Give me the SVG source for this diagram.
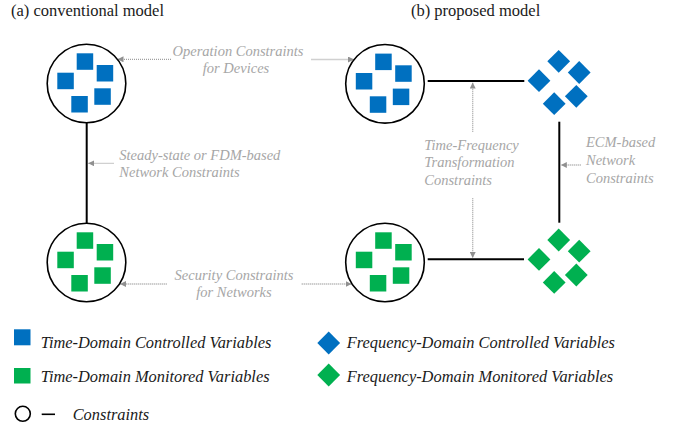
<svg xmlns="http://www.w3.org/2000/svg" width="678" height="427" viewBox="0 0 678 427">
  <style>
    .title { font-family: "Liberation Serif", "Times New Roman", serif; font-size: 16.5px; fill: #1a1a1a; }
    .note { font-family: "Liberation Serif", "Times New Roman", serif; font-style: italic; font-size: 14.5px; fill: #a6a6a6; }
    .legend { font-family: "Liberation Serif", "Times New Roman", serif; font-style: italic; font-size: 16.4px; fill: #1a1a1a; }
    .ring { fill: #ffffff; stroke: #000000; stroke-width: 1.6; }
    .link { stroke: #000000; stroke-width: 2; fill: none; }
    .hint { stroke: #a0a0a0; stroke-width: 1.3; stroke-dasharray: 1 1; fill: none; }
    .blue { fill: #0070c0; }
    .green { fill: #00b050; }
  </style>
  <defs>
    <!-- five square variables, placed around a circle centre at (0,0) -->
    <g id="square-set">
      <rect x="-9.8" y="-30.2" width="16.5" height="16.5"/>
      <rect x="10.2" y="-18.5" width="16.5" height="16.5"/>
      <rect x="-29.2" y="-10.8" width="16.5" height="16.5"/>
      <rect x="7.8" y="4.8" width="16.5" height="16.5"/>
      <rect x="-15.2" y="12.5" width="16.5" height="16.5"/>
    </g>
    <polygon id="diamond" points="0,-11.4 11.4,0 0,11.4 -11.4,0"/>
    <!-- five diamond variables around (0,0) -->
    <g id="diamond-set">
      <use href="#diamond" x="-0.3" y="-21.7"/>
      <use href="#diamond" x="20.2" y="-10.5"/>
      <use href="#diamond" x="-20" y="-2.3"/>
      <use href="#diamond" x="17.3" y="13.3"/>
      <use href="#diamond" x="-4.8" y="20.7"/>
    </g>
    <marker id="tip" viewBox="0 0 6 6" refX="6" refY="3" markerWidth="6" markerHeight="6" markerUnits="userSpaceOnUse" orient="auto">
      <path d="M0,0 L6,3 L0,6 Z" fill="#909090"/>
    </marker>
  </defs>

  <!-- panel titles -->
  <text class="title" x="11" y="16">(a) conventional model</text>
  <text class="title" x="411" y="16">(b) proposed model</text>

  <!-- connectors -->
  <g id="connectors">
    <line class="link" x1="86.7" y1="123" x2="86.7" y2="223"/>
    <line class="link" x1="427.7" y1="81" x2="524.3" y2="81"/>
    <line class="link" x1="559.3" y1="121.7" x2="559.3" y2="222.7"/>
    <line class="link" x1="427.7" y1="259.3" x2="524" y2="259.3"/>

    <line class="hint" x1="171" y1="59.3" x2="117.5" y2="59.3" marker-end="url(#tip)"/>
    <line class="hint" x1="311.5" y1="59.5" x2="354" y2="59.5" marker-end="url(#tip)"/>
    <line class="hint" x1="113.5" y1="163.3" x2="88.2" y2="163.3" marker-end="url(#tip)"/>
    <line class="hint" x1="166.7" y1="284" x2="120" y2="284" marker-end="url(#tip)"/>
    <line class="hint" x1="301.7" y1="284" x2="351.5" y2="284" marker-end="url(#tip)"/>
    <line class="hint" x1="472.7" y1="131.7" x2="472.7" y2="82.5" marker-end="url(#tip)"/>
    <line class="hint" x1="472.7" y1="198.3" x2="472.7" y2="258" marker-end="url(#tip)"/>
    <line class="hint" x1="580.7" y1="165" x2="560.8" y2="165" marker-end="url(#tip)"/>
  </g>

  <!-- nodes -->
  <g id="conv-time-node">
    <circle class="ring" cx="86.5" cy="83.5" r="39.3"/>
    <use href="#square-set" class="blue" x="86.5" y="83.5"/>
  </g>
  <g id="conv-monitor-node">
    <circle class="ring" cx="86.5" cy="262.5" r="39.3"/>
    <use href="#square-set" class="green" x="86.5" y="262.5"/>
  </g>
  <g id="prop-time-node">
    <circle class="ring" cx="385" cy="83.8" r="39.3"/>
    <use href="#square-set" class="blue" x="385" y="83.8"/>
  </g>
  <g id="prop-monitor-node">
    <circle class="ring" cx="385" cy="262.5" r="39.3"/>
    <use href="#square-set" class="green" x="385" y="262.5"/>
  </g>
  <g id="freq-controlled-node">
    <use href="#diamond-set" class="blue" x="559" y="83"/>
  </g>
  <g id="freq-monitored-node">
    <use href="#diamond-set" class="green" x="559" y="261.7"/>
  </g>

  <!-- constraint labels -->
  <g id="label-operation">
    <text class="note" x="238" y="56" text-anchor="middle">Operation Constraints</text>
    <text class="note" x="236" y="73.3" text-anchor="middle">for Devices</text>
  </g>
  <g id="label-steady">
    <text class="note" x="119.3" y="160">Steady-state or FDM-based</text>
    <text class="note" x="119.3" y="176.7">Network Constraints</text>
  </g>
  <g id="label-security">
    <text class="note" x="234" y="280" text-anchor="middle">Security Constraints</text>
    <text class="note" x="234" y="296.7" text-anchor="middle">for Networks</text>
  </g>
  <g id="label-tf">
    <text class="note" x="424.3" y="149.5">Time-Frequency</text>
    <text class="note" x="424.3" y="167">Transformation</text>
    <text class="note" x="424.3" y="184.5">Constraints</text>
  </g>
  <g id="label-ecm">
    <text class="note" x="586" y="147">ECM-based</text>
    <text class="note" x="586" y="165">Network</text>
    <text class="note" x="586" y="183">Constraints</text>
  </g>

  <!-- legend -->
  <g id="legend">
    <rect class="blue" x="14" y="329.3" width="16.5" height="16"/>
    <text class="legend" x="40.7" y="348.3">Time-Domain Controlled Variables</text>
    <rect class="green" x="14" y="368" width="16.5" height="15.5"/>
    <text class="legend" x="40.7" y="382.3">Time-Domain Monitored Variables</text>
    <use href="#diamond" class="blue" x="328.7" y="343"/>
    <text class="legend" x="346.7" y="348.3">Frequency-Domain Controlled Variables</text>
    <use href="#diamond" class="green" x="328.7" y="375"/>
    <text class="legend" x="346.7" y="381.7">Frequency-Domain Monitored Variables</text>
    <circle cx="22.8" cy="413.8" r="7.5" fill="none" stroke="#000000" stroke-width="1.6"/>
    <line x1="41.7" y1="414.3" x2="55" y2="414.3" stroke="#000000" stroke-width="1.6"/>
    <text class="legend" x="72.7" y="420">Constraints</text>
  </g>
</svg>
